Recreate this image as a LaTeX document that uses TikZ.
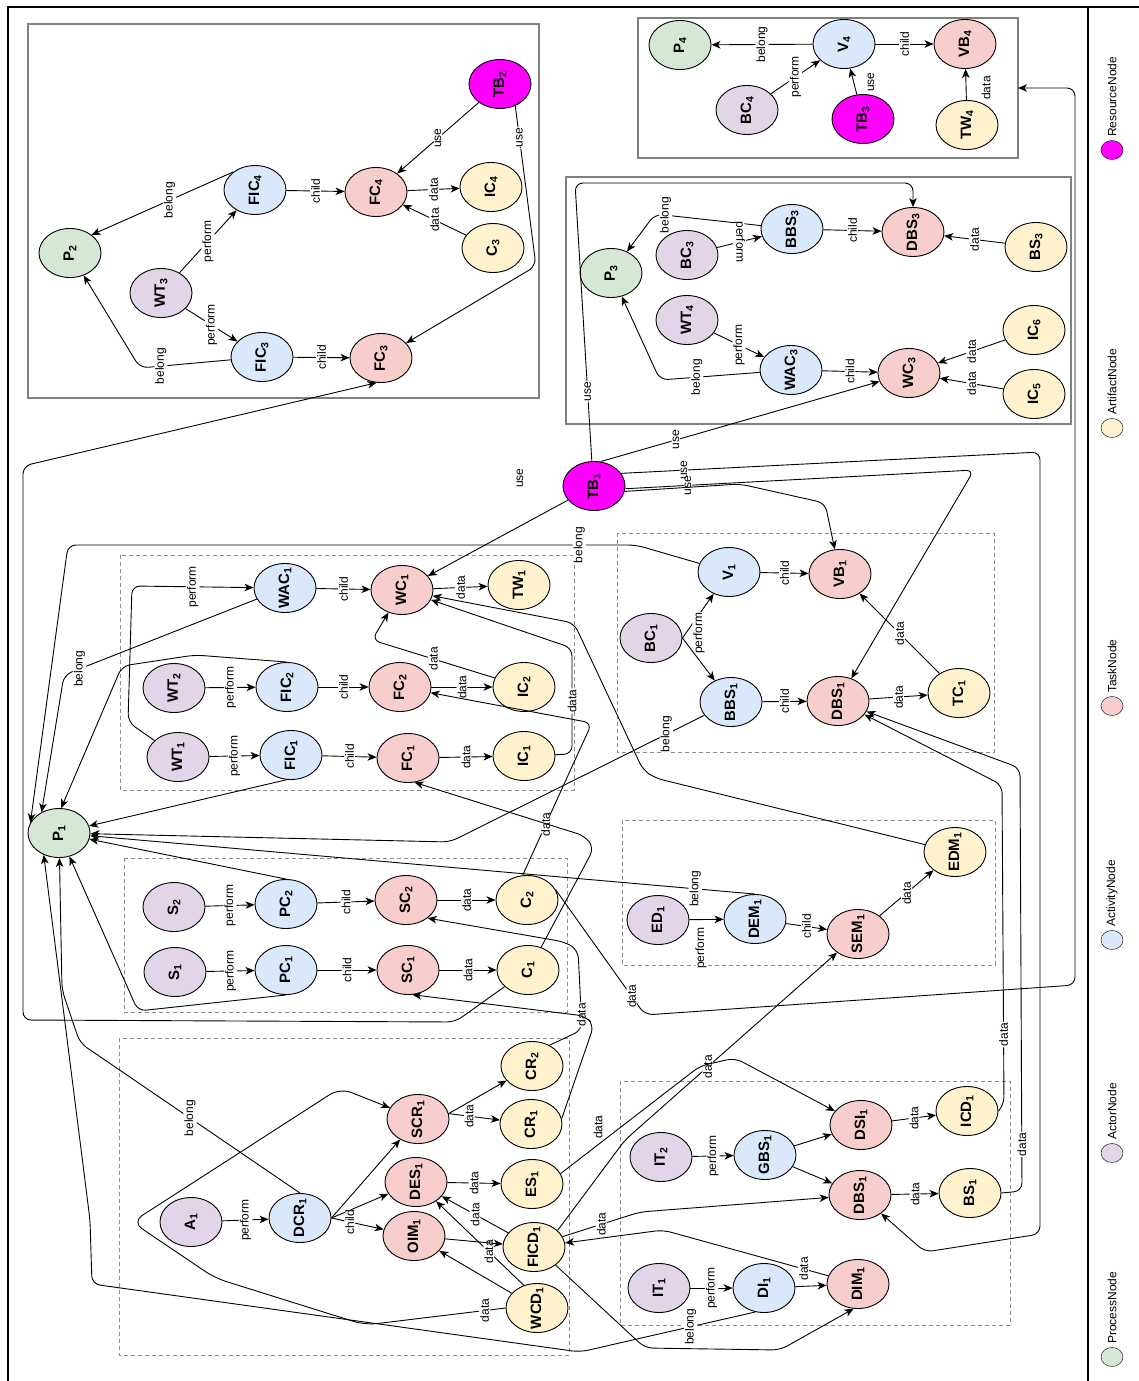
\documentclass[tikz,border=0pt]{standalone}
\usepackage{fontspec}
\setmainfont{Liberation Sans}
\usetikzlibrary{shapes.geometric,arrows.meta}
\definecolor{procfill}{HTML}{D5E8D4}
\definecolor{actorfill}{HTML}{E1D5E7}
\definecolor{actfill}{HTML}{DAE8FC}
\definecolor{taskfill}{HTML}{F8CECC}
\definecolor{artfill}{HTML}{FFF2CC}
\definecolor{resfill}{HTML}{FF00FF}
\newcommand{\ndtxt}[2]{\rotatebox{90}{\makebox[0pt][c]{#1\textsubscript{#2}}}}
\tikzset{
  gnode/.style={ellipse, draw, line width=0.9pt, minimum width=62pt, minimum height=49pt, inner sep=0pt, font=\fontsize{15}{15}\selectfont\bfseries},
  procnode/.style={gnode, fill=procfill},
  actornode/.style={gnode, fill=actorfill},
  activitynode/.style={gnode, fill=actfill},
  tasknode/.style={gnode, fill=taskfill},
  artifactnode/.style={gnode, fill=artfill},
  resourcenode/.style={gnode, fill=resfill},
  elab/.style={fill=white, inner sep=1pt, rotate=90, font=\fontsize{12}{12}\selectfont},
  flow/.style={line width=0.9pt, rounded corners=8pt, -{Stealth[length=9pt,width=7.5pt,inset=2.5pt]}},
  solidbox/.style={draw=black!50, line width=2pt},
  dashbox/.style={draw=black!45, line width=0.8pt, dash pattern=on 4pt off 3pt}
}
\begin{document}
\begin{tikzpicture}[x=1pt,y=-1pt]
\useasboundingbox (0,0) rectangle (1139,1381);
\draw[line width=2.5pt] (8,1381) -- (8,7) -- (1139,7);
\draw[line width=1.5pt] (1088,7) -- (1088,1381);

\draw[solidbox] (28,24) rectangle (539,398);
\draw[solidbox] (638,18) rectangle (1018,158);
\draw[solidbox] (566,177) rectangle (1071,424);
\draw[dashbox] (120,555) rectangle (574,790);
\draw[dashbox] (617,533) rectangle (994,752);
\draw[dashbox] (124,858) rectangle (567,1012);
\draw[dashbox] (622,820) rectangle (995,965);
\draw[dashbox] (119,1038) rectangle (569,1355);
\draw[dashbox] (620,1081) rectangle (1010,1325);

\foreach \nid/\nx/\ny/\nbase/\nsub in {P1/59/833/P/1, P2/70/253/P/2, P3/611/273/P/3, P4/680/45/P/4}
  \node[procnode] (\nid) at (\nx,\ny) {\ndtxt{\nbase}{\nsub}};
\foreach \nid/\nx/\ny/\nbase/\nsub in {WT3/161/293/WT/3, BC4/747/110/BC/4, BC3/687/255/BC/3, WT4/687/320/WT/4,
    WT2/174/688/WT/2, WT1/178/757/WT/1, BC1/651/638/BC/1, S2/174/907/S/2, S1/175/972/S/1,
    ED1/658/920/ED/1, A1/191/1222/A/1, IT2/661/1157/IT/2, IT1/659/1288/IT/1}
  \node[actornode] (\nid) at (\nx,\ny) {\ndtxt{\nbase}{\nsub}};
\foreach \nid/\nx/\ny/\nbase/\nsub in {FIC4/255/190/FIC/4, FIC3/262/357/FIC/3, V4/844/44/V/4, BBS3/792/229/BBS/3,
    WAC3/791/370/WAC/3, WAC1/285/588/WAC/1, FIC2/287/687/FIC/2, FIC1/291/755/FIC/1, V1/729/572/V/1,
    BBS1/731/702/BBS/1, PC2/286/904/PC/2, PC1/286/970/PC/1, DEM1/755/919/DEM/1, DCR1/300/1218/DCR/1,
    GBS1/765/1155/GBS/1, DI1/764/1288/DI/1}
  \node[activitynode] (\nid) at (\nx,\ny) {\ndtxt{\nbase}{\nsub}};
\foreach \nid/\nx/\ny/\nbase/\nsub in {FC4/376/192/FC/4, FC3/381/358/FC/3, VB4/965/44/VB/4, DBS3/913/232/DBS/3,
    WC3/909/373/WC/3, WC1/402/590/WC/1, FC2/400/687/FC/2, FC1/408/758/FC/1, VB1/840/574/VB/1,
    DBS1/838/701/DBS/1, SC2/406/900/SC/2, SC1/408/970/SC/1, SEM1/858/934/SEM/1, SCR1/418/1119/SCR/1,
    DES1/416/1182/DES/1, OIM1/414/1236/OIM/1, DSI1/861/1125/DSI/1, DBSb1/860/1195/DBS/1, DIM1/858/1284/DIM/1}
  \node[tasknode] (\nid) at (\nx,\ny) {\ndtxt{\nbase}{\nsub}};
\foreach \nid/\nx/\ny/\nbase/\nsub in {IC4/491/187/IC/4, C3/493/248/C/3, TW4/967/125/TW/4, BS3/1036/247/BS/3,
    IC6/1034/330/IC/6, IC5/1034/394/IC/5, TW1/519/585/TW/1, IC2/524/687/IC/2, IC1/524/756/IC/1,
    TC1/959/693/TC/1, C2/527/900/C/2, C1/528/970/C/1, EDM1/955/852/EDM/1, CR2/532/1066/CR/2,
    CR1/531/1124/CR/1, ES1/532/1184/ES/1, FICD1/534/1247/FICD/1, WCD1/537/1308/WCD/1,
    ICD1/967/1111/ICD/1, BS1/970/1193/BS/1}
  \node[artifactnode] (\nid) at (\nx,\ny) {\ndtxt{\nbase}{\nsub}};
\foreach \nid/\nx/\ny/\nbase/\nsub in {TB2/500/84/TB/2, TB3/863/119/TB/3, TB1/594/486/TB/1}
  \node[resourcenode] (\nid) at (\nx,\ny) {\ndtxt{\nbase}{\nsub}};
\coordinate (tw4in) at (1018,88);

\draw[flow] (FIC4.140) -- node[elab,pos=0.45]{belong} (P2.40);
\draw[flow] (FIC3) -- node[elab,pos=0.77]{belong} (140,368) -- (P2);
\draw[flow] (WT3) -- node[elab]{perform} (FIC4);
\draw[flow] (WT3) -- node[elab]{perform} (FIC3);
\draw[flow] (FIC4) -- node[elab]{child} (FC4);
\draw[flow] (FIC3) -- node[elab]{child} (FC3);
\draw[flow] (FC4) -- node[elab]{data} (IC4);
\draw[flow] (C3) -- node[elab]{data} (FC4);
\draw[flow] (TB2) -- node[elab]{use} (FC4);
\draw[flow] (TB2.-55) -- node[elab,pos=0.2]{use} (536,266) -- (FC3);

\draw[flow] (V4) -- node[elab]{belong} (P4);
\draw[flow] (BC4) -- node[elab]{perform} (V4);
\draw[flow] (TB3) -- (V4) node[elab] at (871,82) {use};
\draw[flow] (V4) -- node[elab]{child} (VB4);
\draw[flow] (TW4) -- (VB4) node[elab] at (986,88) {data};

\draw[flow] (BBS3) -- node[elab,pos=0.9]{belong} (655,214) -- (P3);
\draw[flow] (BC3) -- node[elab,rotate=180]{perform} (BBS3);
\draw[flow] (WT4) -- node[elab]{perform} (WAC3);
\draw[flow] (WAC3) -- node[elab,pos=0.63]{belong} (660,380) -- (P3);
\draw[flow] (BBS3) -- node[elab]{child} (DBS3);
\draw[flow] (WAC3) -- node[elab]{child} (WC3);
\draw[flow] (BS3) -- node[elab]{data} (DBS3);
\draw[flow] (IC6) -- node[elab]{data} (WC3);
\draw[flow] (IC5) -- node[elab]{data} (WC3);
\draw[flow] (TB1.95) -- node[elab,pos=0.25]{use} (575,183) -- (913,183) -- (DBS3);
\draw[flow] (TB1.75) -- node[elab,pos=0.27]{use} (WC3);

\draw[flow] (TB1) -- (WC1) node[elab] at (520,478) {use};
\draw[flow] (TB1.25) -- node[elab,pos=0.15]{use} (1040,452) -- (1040,1234) -- (925,1252) -- (DBSb1);
\draw[flow] (TB1.-5) -- node[elab,pos=0.18]{use} (974,470) -- (DBS1);
\draw[flow] (TB1.-10) -- (740,484) -- (825,503) -- (VB1);

\draw[flow] (WT1) -- (128,722) -- (132,586) -- node[elab]{perform} (WAC1);
\draw[flow] (WT2) -- node[elab]{perform} (FIC2);
\draw[flow] (WT1) -- node[elab]{perform} (FIC1);
\draw[flow] (WAC1) -- node[elab]{child} (WC1);
\draw[flow] (FIC2) -- node[elab]{child} (FC2);
\draw[flow] (FIC1) -- node[elab]{child} (FC1);
\draw[flow] (WC1) -- node[elab]{data} (TW1);
\draw[flow] (FC2) -- node[elab]{data} (IC2);
\draw[flow] (FC1) -- node[elab]{data} (IC1);
\draw[flow] (IC2) -- node[elab]{data} (372,640) -- (WC1);
\draw[flow] (IC1) -- (572,754) -- node[elab]{data} (572,648) -- (WC1);
\draw[flow] (EDM1) -- (655,778) -- (643,770) -- (574,623) -- (WC1);

\draw[flow] (V1) -- (636,545) -- node[elab,pos=0.1]{belong} (68,545) -- (P1.160);
\draw[flow] (WAC1) -- node[elab,pos=0.92]{belong} (64,675) -- (P1.130);
\draw[flow] (FIC2.north) -- (195,655) -- (122,666) -- (P1.85);
\draw[flow] (FIC1.-100) -- (P1);
\draw[flow] (BBS1) -- node[elab,pos=0.15]{belong} (450,842) -- (P1);
\draw[flow] (DEM1.north) -- node[elab,pos=0.09]{belong} (P1);
\draw[flow] (PC2.north) -- (P1);
\draw[flow] (PC1.south) -- (138,1011) -- (P1);
\draw[flow] (DCR1.north) -- node[elab]{belong} (80,1043) -- (62,990) -- (P1);
\draw[flow] (DI1.-110) -- node[elab,pos=0.37]{belong} (580,1352) -- (92,1284) -- (90,1220) -- (P1.235);

\draw[flow] (C1) -- (455,1022) -- (23,1020) -- (23,466) -- (FC3.260);
\draw[flow] (C2.20) -- node[elab,pos=0.85]{data} (645,1015) -- (1075,985) -- (1075,88) -- (tw4in);
\draw[flow] (C2.100) -- node[elab,pos=0.44]{data} (575,760) -- (592,723) -- (FC2);
\draw[flow] (C1.60) -- (594,848) -- (585,836) -- (FC1.-75);
\draw[flow] (CR2.50) -- (582,1030) -- node[elab,pos=0.19]{data} (578,950) -- (565,942) -- (SC2.-40);
\draw[flow] (CR1.10) -- (594,1025) -- (585,1016) -- (SC1.-80);

\draw[flow] (A1) -- node[elab]{perform} (DCR1);
\draw[flow] (DCR1.east) -- (SCR1);
\draw[flow] (DCR1.east) -- (DES1);
\draw[flow] (DCR1.east) -- node[elab,pos=0.35]{child} (OIM1);
\draw[flow] (SCR1.10) -- (CR2);
\draw[flow] (SCR1.10) -- node[elab,pos=0.4]{data} (CR1);
\draw[flow] (DES1) -- node[elab]{data} (ES1);
\draw[flow] (FICD1) -- node[elab]{data} (DES1);
\draw[flow] (WCD1.120) -- node[elab,pos=0.4]{data} (DES1);
\draw[flow] (WCD1) -- (OIM1);
\draw[flow] (OIM1) -- (FICD1);
\draw[flow,rounded corners=12pt] (WCD1.west) -- node[elab,pos=0.15]{data} (365,1325) -- (215,1278) -- (132,1222) -- (340,1088) -- (SCR1);
\draw[flow] (FICD1.-40) -- (645,1348) -- (780,1350) -- (DIM1.-100);
\draw[flow] (FICD1.20) -- node[elab]{data} (640,1212) -- (DBSb1);
\draw[flow] (DIM1) -- node[elab,pos=0.15]{data} (663,1230) -- (FICD1);
\draw[flow] (FICD1.35) -- (625,1140) -- node[elab,pos=0.39]{data} (SEM1);
\draw[flow] (ES1.20) -- (700,1066) -- (735,1058) -- (DSI1);
\node[elab] (lonedata) at (598,1127) {data};

\draw[flow] (IT2) -- node[elab]{perform} (GBS1);
\draw[flow] (GBS1) -- (DSI1);
\draw[flow] (GBS1) -- (DBSb1);
\draw[flow] (DSI1) -- node[elab]{data} (ICD1);
\draw[flow] (DBSb1) -- node[elab]{data} (BS1);
\draw[flow] (IT1) -- node[elab]{perform} (DI1);
\draw[flow] (DI1) -- (DIM1);
\draw[flow] (ICD1.east) -- (1004,1105) -- node[elab,pos=0.22]{data} (1002,785) -- (DBS1);
\draw[flow] (BS1.east) -- (1022,1191) -- node[elab,pos=0.11]{data} (1020,768) -- (DBS1);

\draw[flow] (ED1) -- (DEM1) node[elab] at (701,948) {perform};
\draw[flow] (DEM1) -- node[elab]{child} (SEM1);
\draw[flow] (SEM1) -- node[elab]{data} (EDM1);

\draw[flow] (BC1.east) -- (V1);
\draw[flow] (BC1.east) -- (BBS1) node[elab] at (699,633) {perform};
\draw[flow] (V1) -- node[elab]{child} (VB1);
\draw[flow] (BBS1) -- node[elab]{child} (DBS1);
\draw[flow] (DBS1) -- node[elab]{data} (TC1);
\draw[flow] (TC1) -- node[elab]{data} (VB1);

\draw[flow] (S2) -- node[elab]{perform} (PC2);
\draw[flow] (S1) -- node[elab]{perform} (PC1);
\draw[flow] (PC2) -- node[elab]{child} (SC2);
\draw[flow] (PC1) -- node[elab]{child} (SC1);
\draw[flow] (SC2) -- node[elab]{data} (C2);
\draw[flow] (SC1) -- node[elab]{data} (C1);

\foreach \ly/\lc/\lt in {150/resfill/ResourceNode, 428/artfill/ArtifactNode, 706/taskfill/TaskNode,
    940/actfill/ActivityNode, 1153/actorfill/ActorNode, 1357/procfill/ProcessNode}{
  \node[ellipse, draw, fill=\lc, minimum width=22pt, minimum height=19pt, inner sep=0pt] (key\lt) at (1112,\ly) {};
  \node[rotate=90, anchor=west, inner sep=2pt, font=\fontsize{12}{12}\selectfont] (txt\lt) at (1112,\ly-11) {\lt};
}
\end{tikzpicture}
\end{document}
